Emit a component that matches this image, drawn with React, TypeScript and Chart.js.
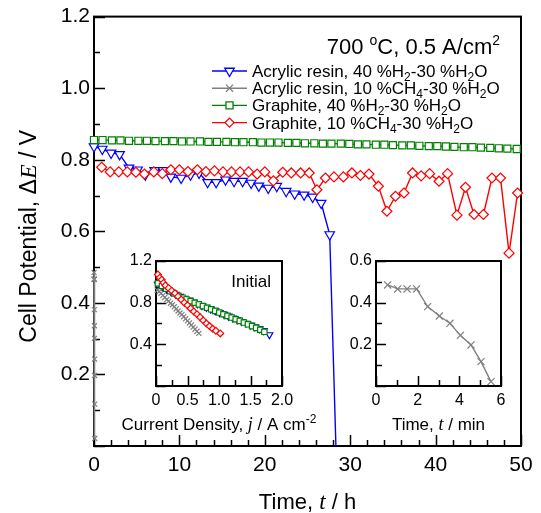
import React, { useEffect, useRef } from "react";
import { Chart, registerables } from "chart.js";
Chart.register(...registerables);

// ---------- data ----------
const blueT = [0, 0.97, 2.0, 3.0, 4.1, 5.1, 6.0, 7.1, 8.1, 9.0, 10.2, 11.3, 12.3, 13.3, 14.3, 15.4, 16.4, 17.4, 18.4, 19.3, 20.4, 21.4, 22.5, 23.5, 24.6, 25.6, 26.6, 27.6, 28.45];
const blueV = [0.837, 0.83, 0.819, 0.815, 0.777, 0.772, 0.758, 0.77, 0.77, 0.752, 0.749, 0.758, 0.763, 0.737, 0.737, 0.744, 0.74, 0.74, 0.735, 0.727, 0.721, 0.726, 0.712, 0.705, 0.702, 0.696, 0.679, 0.591, -0.1];

const grayT = [0.009, 0.017, 0.025, 0.033, 0.042, 0.05, 0.059, 0.067, 0.076, 0.084, 0.092];
const grayV = [0.485, 0.466, 0.466, 0.466, 0.381, 0.336, 0.301, 0.243, 0.197, 0.117, 0.021];

const greenT = [0, 1.0, 2.1, 3.1, 4.1, 5.2, 6.2, 7.2, 8.3, 9.3, 10.3, 11.3, 12.4, 13.4, 14.4, 15.5, 16.5, 17.5, 18.6, 19.6, 20.6, 21.6, 22.7, 23.7, 24.7, 25.8, 26.8, 27.8, 28.9, 29.9, 30.9, 31.9, 33.0, 34.0, 35.0, 36.1, 37.1, 38.1, 39.2, 40.2, 41.2, 42.2, 43.3, 44.3, 45.3, 46.4, 47.4, 48.4, 49.5];
const greenV = [0.855, 0.855, 0.854, 0.854, 0.853, 0.853, 0.853, 0.852, 0.852, 0.852, 0.851, 0.851, 0.851, 0.85, 0.85, 0.85, 0.849, 0.849, 0.849, 0.848, 0.848, 0.848, 0.847, 0.847, 0.846, 0.846, 0.845, 0.845, 0.845, 0.844, 0.843, 0.843, 0.842, 0.842, 0.841, 0.84, 0.84, 0.839, 0.838, 0.838, 0.837, 0.836, 0.835, 0.835, 0.834, 0.833, 0.832, 0.831, 0.83];

const redT = [0.9, 1.9, 2.9, 3.9, 4.9, 5.9, 7.0, 8.0, 9.0, 10.0, 11.0, 12.1, 13.1, 14.1, 15.1, 16.1, 17.1, 18.1, 19.1, 20.0, 21.0, 22.1, 23.1, 24.2, 25.2, 26.1, 27.1, 28.1, 29.2, 30.2, 31.2, 32.2, 33.3, 34.3, 35.3, 36.3, 37.3, 38.3, 39.3, 40.4, 41.4, 42.5, 43.5, 44.5, 45.6, 46.6, 47.6, 48.6, 49.6];
const redV = [0.779, 0.766, 0.766, 0.766, 0.765, 0.76, 0.766, 0.761, 0.772, 0.772, 0.767, 0.772, 0.767, 0.769, 0.766, 0.766, 0.766, 0.766, 0.76, 0.766, 0.741, 0.765, 0.763, 0.763, 0.763, 0.716, 0.749, 0.752, 0.752, 0.763, 0.756, 0.76, 0.726, 0.656, 0.698, 0.707, 0.763, 0.755, 0.761, 0.74, 0.761, 0.645, 0.723, 0.647, 0.647, 0.749, 0.749, 0.539, 0.707];

// inset 1: initial I-V curves
const ivBlueJ = [0.03, 0.1, 0.17, 0.24, 0.31, 0.38, 0.45, 0.52, 0.59, 0.66, 0.73, 0.8, 0.87, 0.94, 1.01, 1.08, 1.15, 1.22, 1.29, 1.36, 1.43, 1.5, 1.57, 1.64, 1.71, 1.8];
const ivBlueV = [0.975, 0.952, 0.928, 0.904, 0.881, 0.86, 0.842, 0.824, 0.806, 0.789, 0.772, 0.755, 0.738, 0.721, 0.704, 0.687, 0.67, 0.653, 0.636, 0.619, 0.602, 0.585, 0.568, 0.55, 0.532, 0.492];
const ivGrayJ = [0.02, 0.05, 0.08, 0.11, 0.14, 0.17, 0.2, 0.23, 0.26, 0.29, 0.32, 0.35, 0.38, 0.41, 0.44, 0.47, 0.5, 0.53, 0.56, 0.59, 0.62, 0.65, 0.68];
const ivGrayV = [0.92, 0.905, 0.89, 0.87, 0.85, 0.83, 0.815, 0.795, 0.78, 0.76, 0.74, 0.72, 0.7, 0.685, 0.665, 0.645, 0.625, 0.605, 0.585, 0.565, 0.545, 0.525, 0.505];
const ivGreenJ = [0.03, 0.095, 0.16, 0.225, 0.29, 0.355, 0.42, 0.485, 0.55, 0.615, 0.68, 0.745, 0.81, 0.875, 0.94, 1.005, 1.07, 1.135, 1.2, 1.265, 1.33, 1.395, 1.46, 1.525, 1.59, 1.655, 1.72];
const ivGreenV = [0.985, 0.96, 0.935, 0.91, 0.888, 0.866, 0.848, 0.831, 0.815, 0.799, 0.783, 0.767, 0.751, 0.736, 0.721, 0.705, 0.689, 0.673, 0.657, 0.641, 0.625, 0.609, 0.592, 0.575, 0.558, 0.54, 0.52];
const ivRedJ = [0.03, 0.06, 0.09, 0.12, 0.15, 0.2, 0.25, 0.3, 0.35, 0.4, 0.45, 0.5, 0.55, 0.6, 0.65, 0.7, 0.75, 0.8, 0.85, 0.9, 0.95, 1.02];
const ivRedV = [1.07, 1.04, 1.02, 0.99, 0.965, 0.94, 0.915, 0.89, 0.86, 0.83, 0.8, 0.775, 0.745, 0.715, 0.69, 0.66, 0.63, 0.6, 0.575, 0.55, 0.53, 0.505];

// inset 2: gray series in minutes
const minT = [0.56, 1.04, 1.49, 1.95, 2.48, 3.04, 3.55, 4.05, 4.56, 5.04, 5.52];
const minV = [0.485, 0.466, 0.466, 0.466, 0.381, 0.336, 0.301, 0.243, 0.197, 0.117, 0.021];

// ---------- style ----------
const BLUE = "#0000ff";
const GRAY = "#808080";
const GREEN = "#008000";
const RED = "#ff0000";
const sans = (s: number) => `${s}px "Liberation Sans", Arial, sans-serif`;
const serifI = (s: number) => `italic ${s}px "Liberation Serif", "Times New Roman", serif`;

const zip = (xs: number[], ys: number[]) => xs.map((x, i) => ({ x, y: ys[i] }));

type Part = { t: string; f: string; dy?: number };
function drawRich(ctx: CanvasRenderingContext2D, parts: Part[], x: number, y: number, align: "left" | "center" | "right") {
  let w = 0;
  for (const p of parts) { ctx.font = p.f; w += ctx.measureText(p.t).width; }
  let cx = align === "left" ? x : align === "center" ? x - w / 2 : x - w;
  ctx.textAlign = "left";
  ctx.textBaseline = "alphabetic";
  ctx.fillStyle = "#000";
  for (const p of parts) {
    ctx.font = p.f;
    ctx.fillText(p.t, cx, y + (p.dy || 0));
    cx += ctx.measureText(p.t).width;
  }
}

function marker(ctx: CanvasRenderingContext2D, style: string, x: number, y: number, r: number, color: string) {
  ctx.save();
  ctx.strokeStyle = color;
  ctx.fillStyle = "#fff";
  ctx.lineWidth = 1.3;
  ctx.beginPath();
  if (style === "tri") {
    ctx.moveTo(x - r * 0.866, y - r * 0.5);
    ctx.lineTo(x + r * 0.866, y - r * 0.5);
    ctx.lineTo(x, y + r);
    ctx.closePath(); ctx.fill(); ctx.stroke();
  } else if (style === "cross") {
    const d = r * 0.707;
    ctx.moveTo(x - d, y - d); ctx.lineTo(x + d, y + d);
    ctx.moveTo(x + d, y - d); ctx.lineTo(x - d, y + d);
    ctx.stroke();
  } else if (style === "rect") {
    const d = r * 0.707;
    ctx.rect(x - d, y - d, 2 * d, 2 * d); ctx.fill(); ctx.stroke();
  } else {
    ctx.moveTo(x, y - r); ctx.lineTo(x + r, y); ctx.lineTo(x, y + r); ctx.lineTo(x - r, y);
    ctx.closePath(); ctx.fill(); ctx.stroke();
  }
  ctx.restore();
}

const near = (v: number, step: number) => Math.abs(v / step - Math.round(v / step)) < 1e-6;

// frame + inward ticks, drawn beneath the data (the gray trace overlays the left frame)
const frameTicks = {
  id: "frameTicks",
  beforeDatasetsDraw(chart: any, _a: any, o: any) {
    const { ctx, chartArea: a, scales } = chart;
    const x = scales.x, y = scales.y;
    ctx.save();
    ctx.strokeStyle = "#000";
    ctx.lineWidth = o.lw;
    ctx.beginPath();
    for (let i = 0; x.min + i * o.xMinor <= x.max + 1e-9; i++) {
      const v = x.min + i * o.xMinor;
      const px = Math.round(x.getPixelForValue(v)) + 0.5;
      const len = near(v, o.xMajor) ? o.majorLen : o.minorLen;
      ctx.moveTo(px, a.bottom); ctx.lineTo(px, a.bottom - len);
    }
    for (let i = 0; y.min + i * o.yMinor <= y.max + 1e-9; i++) {
      const v = y.min + i * o.yMinor;
      const py = Math.round(y.getPixelForValue(v)) + 0.5;
      const len = near(v, o.yMajor) ? o.majorLen : o.minorLen;
      ctx.moveTo(a.left, py); ctx.lineTo(a.left + len, py);
    }
    ctx.stroke();
    ctx.lineWidth = o.frame;
    ctx.strokeRect(a.left, a.top, a.right - a.left, a.bottom - a.top);
    ctx.restore();
  },
};

type Area = { left: number; top: number; right: number; bottom: number };
function scaleSet(cw: number, ch: number, a: Area, fs: number, xOpt: any, yOpt: any, xPad: number, yPad: number) {
  return {
    layout: { padding: { left: 0, top: a.top, right: cw - a.right, bottom: 0 } },
    scales: {
      x: {
        type: "linear",
        ...xOpt,
        grid: { display: false, drawTicks: false },
        border: { display: false },
        afterFit: (s: any) => { s.height = ch - a.bottom; },
        ticks: { ...xOpt.ticks, font: { size: fs, family: '"Liberation Sans", Arial, sans-serif' }, color: "#000", padding: xPad, maxRotation: 0, autoSkip: false },
      },
      y: {
        type: "linear",
        ...yOpt,
        grid: { display: false, drawTicks: false },
        border: { display: false },
        afterFit: (s: any) => { s.width = a.left; },
        ticks: { ...yOpt.ticks, font: { size: fs, family: '"Liberation Sans", Arial, sans-serif' }, color: "#000", padding: yPad, autoSkip: false },
      },
    },
  };
}

const lineDs = (label: string, data: any[], color: string, style: string, r: number, extra: any = {}) => ({
  label,
  data,
  showLine: true,
  borderColor: color,
  borderWidth: 1.4,
  tension: 0,
  pointStyle: style,
  pointRadius: r,
  pointBorderColor: color,
  pointBackgroundColor: "#fff",
  pointBorderWidth: 1.2,
  clip: 8,
  ...extra,
});

const hideZero = (v: number, d: number) => (Math.abs(v) < 1e-9 ? "" : Number(v).toFixed(d));

// ---------- main chart texts ----------
const mainText = {
  id: "mainText",
  afterDraw(chart: any) {
    const ctx = chart.ctx as CanvasRenderingContext2D;
    const a = chart.chartArea;
    ctx.save();
    // y title
    ctx.save();
    ctx.translate(36, (a.top + a.bottom) / 2 + 5);
    ctx.rotate(-Math.PI / 2);
    drawRich(ctx, [
      { t: "Cell Potential, ", f: sans(23) },
      { t: "\u0394", f: sans(23) },
      { t: "E", f: serifI(24) },
      { t: " / V", f: sans(23) },
    ], 0, 0, "center");
    ctx.restore();
    // x title
    drawRich(ctx, [
      { t: "Time, ", f: sans(22) },
      { t: "t", f: serifI(23) },
      { t: " / h", f: sans(22) },
    ], (a.left + a.right) / 2, 509, "center");
    // condition
    drawRich(ctx, [
      { t: "700 ", f: sans(22) },
      { t: "o", f: sans(14), dy: -9 },
      { t: "C, 0.5 A/cm", f: sans(22) },
      { t: "2", f: sans(14), dy: -9 },
    ], 500, 54, "right");
    // legend
    const rows = [
      { c: BLUE, s: "tri", r: 5.5, parts: [["Acrylic resin, 40 %H"], ["2", 1], ["-30 %H"], ["2", 1], ["O"]] },
      { c: GRAY, s: "cross", r: 5, parts: [["Acrylic resin, 10 %CH"], ["4", 1], ["-30 %H"], ["2", 1], ["O"]] },
      { c: GREEN, s: "rect", r: 5, parts: [["Graphite, 40 %H"], ["2", 1], ["-30 %H"], ["2", 1], ["O"]] },
      { c: RED, s: "dia", r: 4.5, parts: [["Graphite, 10 %CH"], ["4", 1], ["-30 %H"], ["2", 1], ["O"]] },
    ];
    rows.forEach((row, i) => {
      const yc = 71 + i * 17.2;
      ctx.strokeStyle = row.c;
      ctx.lineWidth = 1.4;
      ctx.beginPath();
      ctx.moveTo(212, yc); ctx.lineTo(247, yc);
      ctx.stroke();
      marker(ctx, row.s, 229.5, yc, row.r, row.c);
      drawRich(ctx, row.parts.map((p: any) => p[1] ? { t: p[0], f: sans(12), dy: 4 } : { t: p[0], f: sans(17) }), 252, yc + 6, "left");
    });
    ctx.restore();
  },
};

const inset1Text = {
  id: "inset1Text",
  afterDraw(chart: any) {
    const ctx = chart.ctx as CanvasRenderingContext2D;
    const a = chart.chartArea;
    drawRich(ctx, [
      { t: "Current Density, ", f: sans(17) },
      { t: "j", f: serifI(18) },
      { t: " / A cm", f: sans(17) },
      { t: "-2", f: sans(12), dy: -7 },
    ], (a.left + a.right) / 2, a.bottom + 44, "center");
    drawRich(ctx, [{ t: "Initial", f: sans(17) }], a.right - 11, a.top + 26, "right");
  },
};

const inset2Text = {
  id: "inset2Text",
  afterDraw(chart: any) {
    const ctx = chart.ctx as CanvasRenderingContext2D;
    const a = chart.chartArea;
    drawRich(ctx, [
      { t: "Time, ", f: sans(17) },
      { t: "t", f: serifI(18) },
      { t: " / min", f: sans(17) },
    ], (a.left + a.right) / 2, a.bottom + 44, "center");
  },
};

function useChart(ref: React.RefObject<HTMLCanvasElement>, build: () => any) {
  useEffect(() => {
    if (!ref.current) return;
    const c = new Chart(ref.current, build());
    return () => c.destroy();
  }, []);
}

export default function App() {
  const mainRef = useRef<HTMLCanvasElement>(null);
  const in1Ref = useRef<HTMLCanvasElement>(null);
  const in2Ref = useRef<HTMLCanvasElement>(null);

  useChart(mainRef, () => {
    const s = scaleSet(541, 513, { left: 94, top: 16, right: 521, bottom: 446 }, 21,
      { min: 0, max: 50, ticks: { stepSize: 10, callback: (v: number) => String(v) } },
      { min: 0, max: 1.2, ticks: { stepSize: 0.2, callback: (v: number) => hideZero(v, 1) } }, 7, 4);
    const lastB = blueT.length - 1;
    return {
      type: "scatter",
      data: {
        datasets: [
          lineDs("Graphite, 10 %CH4-30 %H2O", zip(redT, redV), RED, "rectRot", 5),
          lineDs("Graphite, 40 %H2-30 %H2O", zip(greenT, greenV), GREEN, "rect", 5),
          lineDs("Acrylic resin, 10 %CH4-30 %H2O", zip(grayT, grayV), GRAY, "crossRot", 3.5, { borderWidth: 1.6 }),
          lineDs("Acrylic resin, 40 %H2-30 %H2O", zip(blueT, blueV), BLUE, "triangle", 5.5, {
            rotation: 180,
            pointRadius: (c: any) => (c.dataIndex === lastB ? 0 : 5.5),
            clip: { left: 10, top: 10, right: 10, bottom: 0 },
          }),
        ],
      },
      options: {
        responsive: false,
        animation: false,
        events: [],
        ...s,
        plugins: {
          legend: { display: false },
          tooltip: { enabled: false },
          frameTicks: { lw: 1.5, frame: 2, xMinor: 2, xMajor: 10, yMinor: 0.1, yMajor: 0.2, majorLen: 11, minorLen: 6 },
        },
      },
      plugins: [frameTicks, mainText],
    };
  });

  useChart(in1Ref, () => {
    const s = scaleSet(235, 195, { left: 61, top: 16, right: 187, bottom: 141 }, 16,
      { min: 0, max: 2, ticks: { stepSize: 0.5, callback: (v: number) => (Math.abs(v) < 1e-9 ? "0" : Number(v).toFixed(1)) } },
      { min: 0, max: 1.2, ticks: { stepSize: 0.4, callback: (v: number) => hideZero(v, 1) } }, 5, 4);
    return {
      type: "scatter",
      data: {
        datasets: [
          lineDs("red", zip(ivRedJ, ivRedV), RED, "rectRot", 3.4, { borderWidth: 1 }),
          lineDs("green", zip(ivGreenJ, ivGreenV), GREEN, "rect", 3.8, { borderWidth: 1 }),
          lineDs("gray", zip(ivGrayJ, ivGrayV), GRAY, "crossRot", 3.6, { borderWidth: 1 }),
          lineDs("blue", zip(ivBlueJ, ivBlueV), BLUE, "triangle", 4, { borderWidth: 1, rotation: 180 }),
        ],
      },
      options: {
        responsive: false,
        animation: false,
        events: [],
        ...s,
        plugins: {
          legend: { display: false },
          tooltip: { enabled: false },
          frameTicks: { lw: 1.5, frame: 2, xMinor: 0.25, xMajor: 0.5, yMinor: 0.2, yMajor: 0.4, majorLen: 10, minorLen: 6 },
        },
      },
      plugins: [frameTicks, inset1Text],
    };
  });

  useChart(in2Ref, () => {
    const s = scaleSet(216, 195, { left: 51, top: 16, right: 176, bottom: 141 }, 16,
      { min: 0, max: 6, ticks: { stepSize: 2, callback: (v: number) => String(v) } },
      { min: 0, max: 0.6, ticks: { stepSize: 0.2, callback: (v: number) => hideZero(v, 1) } }, 5, 4);
    return {
      type: "scatter",
      data: {
        datasets: [lineDs("gray", zip(minT, minV), GRAY, "crossRot", 5, { borderWidth: 1.4 })],
      },
      options: {
        responsive: false,
        animation: false,
        events: [],
        ...s,
        plugins: {
          legend: { display: false },
          tooltip: { enabled: false },
          frameTicks: { lw: 1.5, frame: 2, xMinor: 1, xMajor: 2, yMinor: 0.1, yMajor: 0.2, majorLen: 10, minorLen: 6 },
        },
      },
      plugins: [frameTicks, inset2Text],
    };
  });

  return (
    <div style={{ position: "fixed", left: 0, top: 0, width: 541, height: 513, background: "#fff" }}>
      <canvas ref={mainRef} width={541} height={513} style={{ position: "absolute", left: 0, top: 0 }} />
      <canvas ref={in1Ref} width={235} height={195} style={{ position: "absolute", left: 95, top: 245 }} />
      <canvas ref={in2Ref} width={216} height={195} style={{ position: "absolute", left: 325, top: 245 }} />
    </div>
  );
}
